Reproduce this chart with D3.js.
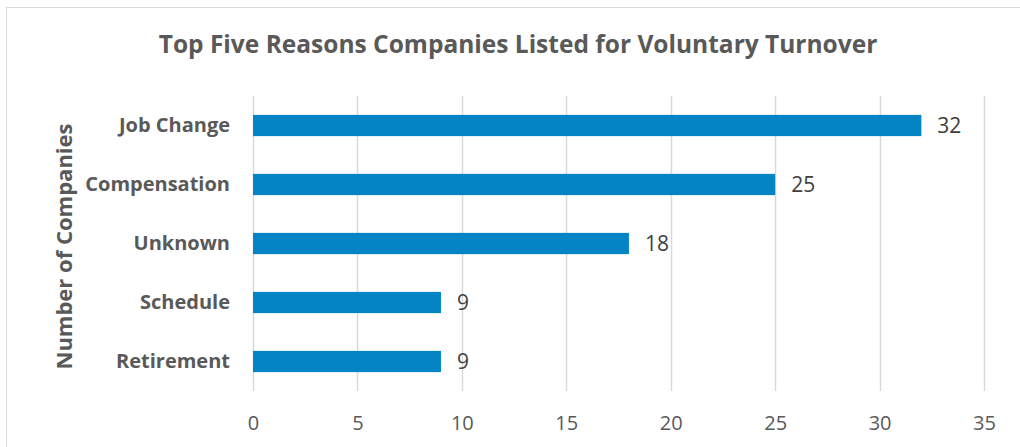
<!DOCTYPE html>
<html>
<head>
<meta charset="utf-8">
<script src="https://cdn.jsdelivr.net/npm/d3@7"></script>
<style>
  html, body { margin: 0; padding: 0; background: #fff; }
  svg { display: block; }
</style>
</head>
<body>
<svg id="chart" width="1020" height="447"></svg>
<script>
// Voluntary turnover reasons and the number of companies citing each
const categories = ["Job Change", "Compensation", "Unknown", "Schedule", "Retirement"];
const counts = [32, 25, 18, 9, 9];
const tickValues = [0, 5, 10, 15, 20, 25, 30, 35];
const chartTitle = "Top Five Reasons Companies Listed for Voluntary Turnover";
const axisTitle = "Number of Companies";

const svg = d3.select("#chart");
const W = 1020, H = 447;
const plot = { left: 253, right: 984, top: 96, bottom: 391 };

const font = "'Open Sans', 'Noto Sans', sans-serif";

// Outer chart frame
svg.append("rect")
  .attr("x", 6.5).attr("y", 7.5)
  .attr("width", W + 20).attr("height", H + 20)
  .attr("fill", "#fff").attr("stroke", "#d9d9d9").attr("stroke-width", 1);

const x = d3.scaleLinear().domain([0, 35]).range([plot.left, plot.right]);
const y = d3.scaleBand().domain(categories).range([plot.top, plot.bottom]).paddingInner(0.64).paddingOuter(0.32);

// Vertical gridlines
svg.append("g")
  .selectAll("line")
  .data(tickValues)
  .join("line")
  .attr("x1", d => Math.round(x(d)) + 0.5)
  .attr("x2", d => Math.round(x(d)) + 0.5)
  .attr("y1", plot.top)
  .attr("y2", plot.bottom)
  .attr("stroke", "#d9d9d9")
  .attr("stroke-width", 1.5);

// Bottom axis labels
const xAxis = svg.append("g")
  .attr("transform", `translate(0,${plot.bottom})`)
  .call(d3.axisBottom(x).tickValues(tickValues).tickSize(0).tickPadding(25));
xAxis.select(".domain").remove();
xAxis.selectAll("text")
  .attr("font-family", font)
  .attr("font-size", 20)
  .attr("fill", "#595959");

// Left axis: category labels
const yAxis = svg.append("g")
  .attr("transform", `translate(${plot.left},0)`)
  .call(d3.axisLeft(y).tickSize(0).tickPadding(23));
yAxis.select(".domain").remove();
yAxis.selectAll("text")
  .attr("font-family", font)
  .attr("font-weight", "bold")
  .attr("font-size", 20)
  .attr("fill", "#595959");

// Bars
svg.append("g")
  .selectAll("rect")
  .data(categories)
  .join("rect")
  .attr("x", x(0))
  .attr("y", d => y(d))
  .attr("width", (d, i) => x(counts[i]) - x(0))
  .attr("height", y.bandwidth())
  .attr("fill", "#0484c4");

// Value labels
svg.append("g")
  .selectAll("text")
  .data(categories)
  .join("text")
  .attr("x", (d, i) => x(counts[i]) + 16)
  .attr("y", d => y(d) + y.bandwidth() / 2)
  .attr("dy", "0.35em")
  .attr("font-family", font)
  .attr("font-size", 21)
  .attr("fill", "#404040")
  .text((d, i) => counts[i]);

// Chart title
svg.append("text")
  .attr("x", 518)
  .attr("y", 53)
  .attr("text-anchor", "middle")
  .attr("font-family", font)
  .attr("font-weight", "bold")
  .attr("font-size", 24.5)
  .attr("fill", "#595959")
  .text(chartTitle);

// Vertical axis title
svg.append("text")
  .attr("transform", `translate(72,${(plot.top + plot.bottom) / 2 + 3}) rotate(-90)`)
  .attr("text-anchor", "middle")
  .attr("font-family", font)
  .attr("font-weight", "bold")
  .attr("font-size", 22)
  .attr("fill", "#595959")
  .text(axisTitle);
</script>
</body>
</html>
